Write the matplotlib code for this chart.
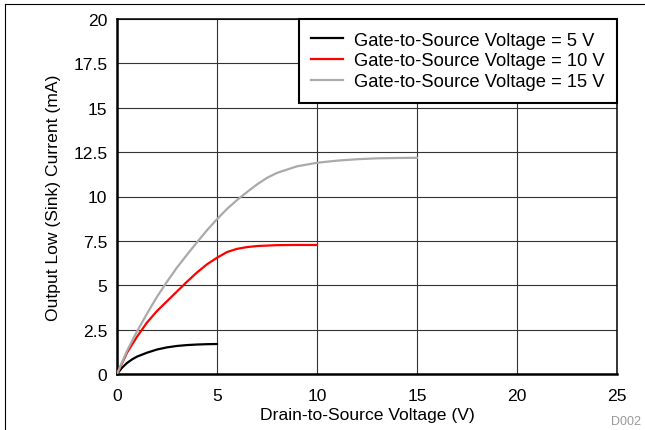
import matplotlib
matplotlib.use("Agg")
import matplotlib.pyplot as plt
from matplotlib.lines import Line2D

# Vds (V) vs sink current (mA) for three gate voltages
vds_5 = [0, 0.25, 0.5, 0.75, 1, 1.5, 2, 2.5, 3, 3.5, 4, 4.5, 5]
isink_5 = [0, 0.35, 0.62, 0.82, 0.98, 1.2, 1.38, 1.5, 1.58, 1.63, 1.66, 1.68, 1.69]

vds_10 = [0, 0.5, 1, 1.5, 2, 2.5, 3, 3.5, 4, 4.5, 5, 5.5, 6, 6.5, 7, 8, 9, 10]
isink_10 = [0, 1.2, 2.1, 2.9, 3.55, 4.1, 4.65, 5.2, 5.72, 6.18, 6.55, 6.87, 7.05, 7.15, 7.21, 7.26, 7.27, 7.27]

vds_15 = [0, 0.5, 1, 1.5, 2, 2.5, 3, 3.5, 4, 4.5, 5, 5.5, 6, 6.5, 7, 7.5, 8, 9, 10, 11, 12, 13, 14, 15]
isink_15 = [0, 1.3, 2.4, 3.4, 4.35, 5.2, 6.0, 6.72, 7.42, 8.1, 8.72, 9.3, 9.8, 10.25, 10.68, 11.05, 11.33, 11.7, 11.9, 12.02, 12.1, 12.15, 12.17, 12.18]

labels = ["Gate-to-Source Voltage = 5 V",
          "Gate-to-Source Voltage = 10 V",
          "Gate-to-Source Voltage = 15 V"]
colors = ["black", "#ff0000", "#aaaaaa"]

xticks = [0, 5, 10, 15, 20, 25]
yticks = [0, 2.5, 5, 7.5, 10, 12.5, 15, 17.5, 20]
ytick_labels = ["0", "2.5", "5", "7.5", "10", "12.5", "15", "17.5", "20"]

plt.rcParams["font.family"] = ["Liberation Sans", "DejaVu Sans"]

fig = plt.figure(figsize=(6.45, 4.31), dpi=100)
ax = fig.add_axes([117 / 645, 56 / 431, 500 / 645, 355 / 431])

for x, y, lab, c in zip([vds_5, vds_10, vds_15], [isink_5, isink_10, isink_15], labels, colors):
    ax.plot(x, y, color=c, lw=1.6, label=lab, zorder=3)

ax.set_xlim(0, 25)
ax.set_ylim(0, 20)
ax.set_xticks(xticks)
ax.set_yticks(yticks)
ax.set_yticklabels(ytick_labels)
ax.tick_params(length=0, labelsize=12.6)
ax.tick_params(axis="x", pad=10)
ax.tick_params(axis="y", pad=7)
ax.grid(True, color="#333333", lw=0.8)
ax.set_axisbelow(True)

for side in ["left", "bottom"]:
    ax.spines[side].set_linewidth(1.8)
for side in ["top", "right"]:
    ax.spines[side].set_linewidth(1.1)

ax.set_xlabel("Drain-to-Source Voltage (V)", fontsize=12.6, labelpad=3)
ax.set_ylabel("Output Low (Sink) Current (mA)", fontsize=12.6, labelpad=9)

leg = ax.legend(loc="upper right", fontsize=13.2, fancybox=False, framealpha=1,
                edgecolor="black", borderaxespad=0, handlelength=1.75,
                handletextpad=0.55, labelspacing=0.2, borderpad=0.7)
leg.get_frame().set_linewidth(1.5)

# outer frame lines (top and left)
fig.add_artist(Line2D([5 / 645, 1], [1 - 5 / 431, 1 - 5 / 431], color="black", lw=0.8))
fig.add_artist(Line2D([5 / 645, 5 / 645], [0, 1 - 5 / 431], color="black", lw=0.8))

fig.text(641 / 645, 3 / 431, "D002", fontsize=9, color="#999999", ha="right", va="bottom")

fig.savefig("out.png", dpi=100)
